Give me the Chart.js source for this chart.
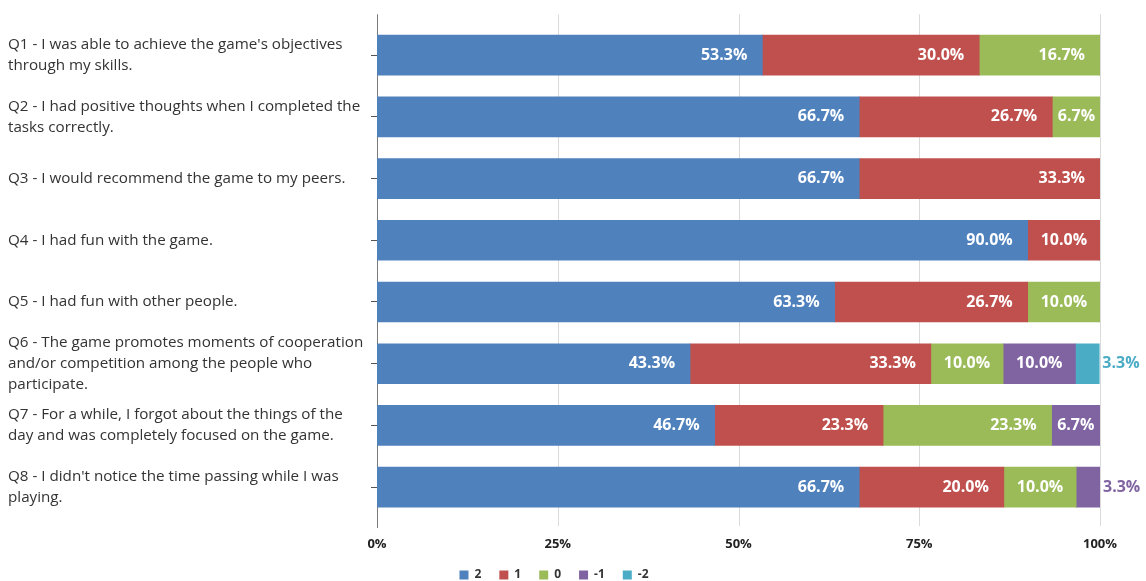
<!DOCTYPE html>
<html>
<head>
<meta charset="utf-8">
<script src="https://cdn.jsdelivr.net/npm/chart.js@4.4.1/dist/chart.umd.min.js"></script>
<style>
  html, body { margin: 0; padding: 0; background: #fff; }
  #wrap { width: 1146px; height: 581px; }
</style>
</head>
<body>
<div id="wrap"><canvas id="chart"></canvas></div>
<script>
// Questions (wrapped the same way as the original)
const questions = [
    ["Q1 - I was able to achieve the game's objectives", "through my skills."],
    ["Q2 - I had positive thoughts when I completed the", "tasks correctly."],
    "Q3 - I would recommend the game to my peers.",
    "Q4 - I had fun with the game.",
    "Q5 - I had fun with other people.",
    ["Q6 - The game promotes moments of cooperation", "and/or competition among the people who", "participate."],
    ["Q7 - For a while, I forgot about the things of the", "day and was completely focused on the game."],
    ["Q8 - I didn't notice the time passing while I was", "playing."]
];

// Answer shares in percent, one array per score
const seriesNames = ['2', '1', '0', '-1', '-2'];
const score2 = [53.3, 66.7, 66.7, 90.0, 63.3, 43.3, 46.7, 66.7];
const score1 = [30.0, 26.7, 33.3, 10.0, 26.7, 33.3, 23.3, 20.0];
const score0 = [16.7, 6.7, 0, 0, 10.0, 10.0, 23.3, 10.0];
const scoreMinus1 = [0, 0, 0, 0, 0, 10.0, 6.7, 3.3];
const scoreMinus2 = [0, 0, 0, 0, 0, 3.3, 0, 0];

const xTicks = [0, 25, 50, 75, 100];
const colors = ['#4f81bd', '#c0504d', '#9bbb59', '#8064a2', '#4bacc6'];

const allSeries = [score2, score1, score0, scoreMinus1, scoreMinus2];

// Grid lines and the left axis line, a bit longer than the plot area
const framePlugin = {
    id: 'frame',
    beforeDatasetsDraw(chart) {
        const ctx = chart.ctx;
        const area = chart.chartArea;
        const x = chart.scales.x;
        ctx.save();
        ctx.lineWidth = 1;
        ctx.strokeStyle = '#dadada';
        xTicks.forEach(v => {
            if (v === 0) return;
            const px = Math.round(x.getPixelForValue(v)) + 0.5;
            ctx.beginPath();
            ctx.moveTo(px, area.top - 10);
            ctx.lineTo(px, area.bottom + 8);
            ctx.stroke();
        });
        ctx.strokeStyle = '#7a7a7a';
        const px0 = Math.round(x.getPixelForValue(0)) + 0.5;
        ctx.beginPath();
        ctx.moveTo(px0, area.top - 10);
        ctx.lineTo(px0, area.bottom + 10);
        ctx.stroke();
        ctx.restore();
    }
};

// Value labels: inside the end of each bar, outside when the bar is too thin
const valueLabels = {
    id: 'valueLabels',
    afterDatasetsDraw(chart) {
        const ctx = chart.ctx;
        ctx.save();
        ctx.font = 'bold 16px "Open Sans"';
        ctx.textBaseline = 'middle';
        chart.data.datasets.forEach((ds, i) => {
            const meta = chart.getDatasetMeta(i);
            meta.data.forEach((bar, j) => {
                const v = ds.data[j];
                if (!v) return;
                const text = v.toFixed(1) + '%';
                const tw = ctx.measureText(text).width;
                const w = bar.x - bar.base;
                if (tw + 4 <= w) {
                    ctx.fillStyle = '#fff';
                    if (tw + 28 <= w) {
                        ctx.textAlign = 'right';
                        ctx.fillText(text, bar.x - 15, bar.y);
                    } else {
                        ctx.textAlign = 'center';
                        ctx.fillText(text, (bar.x + bar.base) / 2, bar.y);
                    }
                } else {
                    ctx.fillStyle = ds.backgroundColor;
                    ctx.textAlign = 'left';
                    ctx.fillText(text, bar.x + 3, bar.y);
                }
            });
        });
        ctx.restore();
    }
};

new Chart(document.getElementById('chart'), {
    type: 'bar',
    data: {
        labels: questions,
        datasets: allSeries.map((data, i) => ({
            label: seriesNames[i],
            data: data,
            backgroundColor: colors[i],
            borderWidth: 0,
            barThickness: 40
        }))
    },
    options: {
        indexAxis: 'y',
        responsive: true,
        maintainAspectRatio: false,
        animation: false,
        layout: { padding: { left: 8, right: 46, top: 24, bottom: -10 } },
        scales: {
            x: {
                stacked: true,
                min: 0,
                max: 100,
                afterBuildTicks: scale => { scale.ticks = xTicks.map(v => ({ value: v })); },
                afterFit: scale => { scale.height = 33; },
                grid: { display: false, drawTicks: false },
                border: { display: false },
                ticks: {
                    padding: 18,
                    color: '#222',
                    font: { family: 'Open Sans', size: 13, weight: 'bold' },
                    callback: v => v + '%'
                }
            },
            y: {
                stacked: true,
                afterFit: scale => { scale.width = 369; },
                grid: {
                    offset: false,
                    drawOnChartArea: false,
                    drawTicks: true,
                    tickLength: 6,
                    color: '#555'
                },
                border: { display: false },
                ticks: {
                    autoSkip: false,
                    crossAlign: 'far',
                    color: '#333',
                    font: { family: 'Open Sans', size: 15.2, lineHeight: 1.4 }
                }
            }
        },
        plugins: {
            legend: {
                position: 'bottom',
                labels: {
                    boxWidth: 9,
                    boxHeight: 9,
                    padding: 18,
                    color: '#333',
                    font: { family: 'Open Sans', size: 12, weight: 'bold' }
                }
            },
            tooltip: { enabled: false }
        }
    },
    plugins: [framePlugin, valueLabels]
});
</script>
</body>
</html>
